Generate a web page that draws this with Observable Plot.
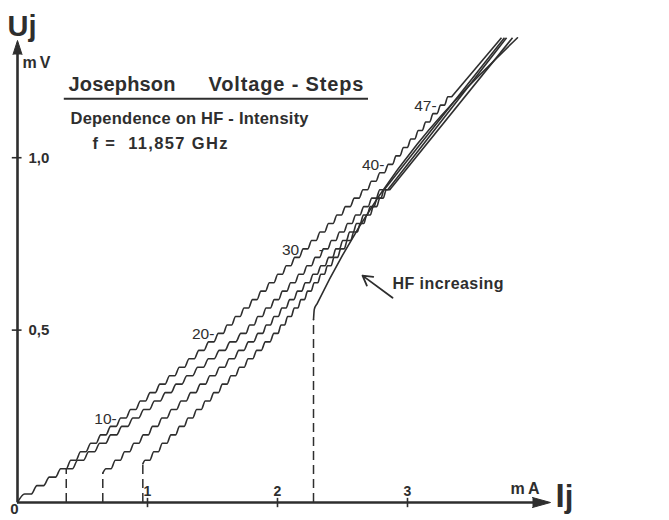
<!DOCTYPE html>
<html><head><meta charset="utf-8">
<script src="https://cdn.jsdelivr.net/npm/d3@7"></script>
<script src="https://cdn.jsdelivr.net/npm/@observablehq/plot@0.6"></script>
<style>html,body{margin:0;padding:0;background:#fff;}#chart svg{display:block}</style>
</head><body><div id="chart"></div>
<script>
// Josephson step height hf/2e at f = 11.857 GHz, in mV
const stepVoltage = 0.02452;

const curveNames = ["HF level 4", "HF level 3", "HF level 2", "HF level 1"];
const firstStep = [1, 4, 4, 5];
// current (mA) at the centre of each constant-voltage step
const curve1Steps = [0.08, 0.175, 0.27, 0.355, 0.43, 0.505, 0.585, 0.66, 0.737, 0.815,
  0.89, 0.965, 1.04, 1.115, 1.19, 1.265, 1.34, 1.415, 1.49, 1.565,
  1.63, 1.695, 1.76, 1.825, 1.89, 1.955, 2.02, 2.085, 2.15, 2.215,
  2.28, 2.345, 2.41, 2.475, 2.54, 2.61, 2.675, 2.74, 2.805, 2.87,
  2.927, 2.984, 3.041, 3.098, 3.155, 3.212, 3.27, 3.325];
const curve2Steps = [0.40, 0.485, 0.57, 0.655, 0.74, 0.825, 0.91,
  0.993, 1.076, 1.159, 1.242, 1.325, 1.408, 1.491, 1.574, 1.657, 1.74,
  1.803, 1.866, 1.929, 1.992, 2.055, 2.118, 2.181, 2.244, 2.307, 2.37,
  2.432, 2.494, 2.556, 2.618, 2.68, 2.742, 2.804];
const curve3Steps = [0.70, 0.772, 0.843, 0.915, 0.987, 1.058, 1.13,
  1.204, 1.278, 1.352, 1.426, 1.50, 1.574, 1.648, 1.722, 1.796, 1.87,
  1.93, 1.99, 2.05, 2.11, 2.17, 2.23, 2.29, 2.35, 2.41,
  2.463, 2.516, 2.569, 2.622, 2.675, 2.728, 2.781, 2.834];
const curve4Steps = [1.0, 1.066, 1.132, 1.198, 1.264, 1.33,
  1.396, 1.462, 1.528, 1.594, 1.66, 1.726, 1.792, 1.858, 1.924, 1.99,
  2.041, 2.092, 2.143, 2.194, 2.245, 2.296, 2.347, 2.398, 2.449, 2.50,
  2.55, 2.60, 2.65, 2.70, 2.75, 2.80, 2.85];
const startCurrent = [0, 0.375, 0.656, 0.964];
const startVoltage = [0, 0.098, 0.085, 0.112];
const endCurrent = [3.723, 3.746, 3.762, 3.808];
const endVoltage = [1.348, 1.348, 1.348, 1.348];

// curve without HF
const noHfCurrent = [2.277, 2.283, 2.305, 3.846];
const noHfVoltage = [0.53, 0.56, 0.577, 1.348];

const labelSteps = [10, 20, 30, 40, 47];
const labelTexts = ["10-", "20-", "30", "40-", "47-"];
const xTicks = [1, 2, 3];
const xTickLabels = ["1", "2", "3"];
const yTicks = [0.5, 1.0];
const yTickLabels = ["0,5", "1,0"];

const ink = "#2e2e2e";
const font = "'Liberation Sans', Arial, Helvetica, sans-serif";
const plateau = 0.27;

const stepLists = [curve1Steps, curve2Steps, curve3Steps, curve4Steps];
const rows = [];
const tails = [];
const plateauLeft = [];
stepLists.forEach((list, k) => {
  const name = curveNames[k];
  rows.push({curve: name, I: startCurrent[k], U: startVoltage[k]});
  let lastR = 0, lastU = 0;
  plateauLeft.push([]);
  list.forEach((c, i) => {
    const n = firstStep[k] + i;
    const prev = i > 0 ? list[i - 1] : c - (list[1] - list[0]);
    const next = i < list.length - 1 ? list[i + 1] : c + (c - list[i - 1]);
    const u = n * stepVoltage;
    const left = c - plateau * (c - prev), right = c + plateau * (next - c);
    rows.push({curve: name, I: left, U: u});
    rows.push({curve: name, I: right, U: u});
    plateauLeft[k].push(left);
    lastR = right; lastU = u;
  });
  tails.push({I1: lastR, U1: lastU, I2: endCurrent[k], U2: endVoltage[k]});
});
const noHfRows = noHfCurrent.map((I, i) => ({I, U: noHfVoltage[i]}));
const dashed = startCurrent.slice(1).map((I, i) => ({I, U: startVoltage[i + 1]}))
  .concat([{I: noHfCurrent[0], U: noHfVoltage[0]}]);
const labels = labelSteps.map((n, i) => ({I: plateauLeft[0][n - firstStep[0]], U: n * stepVoltage, t: labelTexts[i]}));

const txt = (s, x, y, o = {}) => Plot.text([s], {x, y, text: d => d, textAnchor: "start", lineAnchor: "bottom",
  fill: ink, fontWeight: "bold", fontFamily: font, ...o});

const chart = Plot.plot({
  width: 669, height: 520,
  marginLeft: 17, marginRight: 119, marginTop: 40, marginBottom: 18,
  x: {domain: [0, 4.1], axis: null},
  y: {domain: [0, 1.34], axis: null},
  style: {background: "#fff", fontFamily: font},
  marks: [
    // axes
    Plot.ruleY([0], {x1: 0, x2: 4.0, stroke: ink, strokeWidth: 2.6}),
    Plot.ruleX([0], {y1: 0, y2: 1.31, stroke: ink, strokeWidth: 2.6}),
    Plot.vector([0], {x: 4.1, y: 0, length: 18, r: 5, rotate: 90, shape: "spike", anchor: "end", fill: ink, stroke: ink, strokeWidth: 1}),
    Plot.vector([0], {x: 0, y: 1.34, length: 14, r: 4.5, rotate: 0, shape: "spike", anchor: "end", fill: ink, stroke: ink, strokeWidth: 1}),
    Plot.ruleX(xTicks, {x: d => d, y1: -0.015, y2: 0.012, stroke: ink, strokeWidth: 1.6}),
    Plot.text(xTicks, {x: d => d, y: 0, dy: -7, text: (d, i) => xTickLabels[i], lineAnchor: "bottom", fontSize: 14, fontWeight: "bold", fill: ink}),
    Plot.ruleY(yTicks, {y: d => d, x1: -0.04, x2: 0.035, stroke: ink, strokeWidth: 1.6}),
    Plot.text(yTicks, {x: 0, y: d => d, dx: 11, text: (d, i) => yTickLabels[i], textAnchor: "start", lineAnchor: "middle", fontSize: 15, fontWeight: "bold", fill: ink}),
    Plot.text(["0"], {x: 0, y: 0, dx: -3, dy: 11, text: d => d, lineAnchor: "bottom", fontSize: 15, fontWeight: "bold", fill: ink}),
    // dashed critical-current jumps
    Plot.ruleX(dashed, {x: "I", y1: 0, y2: "U", stroke: ink, strokeWidth: 1.5, strokeDasharray: "9,5"}),
    // curves with steps
    Plot.line(rows, {x: "I", y: "U", z: "curve", curve: "monotone-x", stroke: ink, strokeWidth: 1.6}),
    Plot.link(tails, {x1: "I1", y1: "U1", x2: "I2", y2: "U2", stroke: ink, strokeWidth: 1.6}),
    Plot.line(noHfRows, {x: "I", y: "U", curve: "monotone-x", stroke: ink, strokeWidth: 1.6}),
    // step labels
    Plot.text(labels, {x: "I", y: "U", text: "t", dx: -4, dy: 1, textAnchor: "end", lineAnchor: "middle", fontSize: 15.5, fill: ink}),
    Plot.text(["-"], {x: curve1Steps[29], y: 30 * stepVoltage, dx: 16, dy: 1, text: d => d, lineAnchor: "middle", fontSize: 15.5, fill: ink}),
    // titles and annotations
    txt("U", -0.077, 1.354, {fontSize: 29}),
    txt("j", 0.085, 1.354, {fontSize: 29}),
    txt("mV", 0.038, 1.261, {fontSize: 16}),
    txt("Josephson", 0.392, 1.194, {fontSize: 20}),
    txt("Voltage - Steps", 1.469, 1.194, {fontSize: 20}),
    Plot.ruleY([1.171], {x1: 0.36, x2: 2.70, stroke: ink, strokeWidth: 2}),
    txt("Dependence on HF - Intensity", 0.408, 1.099, {fontSize: 16.5}),
    txt("f =  11,857 GHz", 0.577, 1.025, {fontSize: 16.5}),
    txt("HF increasing", 2.885, 0.62, {fontSize: 16}),
    Plot.arrow([0], {x1: 2.885, y1: 0.594, x2: 2.654, y2: 0.658, stroke: ink, strokeWidth: 1.8, headLength: 9}),
    txt("mA", 3.792, 0.026, {fontSize: 16}),
    txt("I", 4.138, -0.0145, {fontSize: 33}),
    txt("j", 4.21, -0.0145, {fontSize: 31})
  ]
});
// stretch lettering to the widths of the hand-set original
const widths = {"Voltage - Steps": 155, "Dependence on HF - Intensity": 238, "f =  11,857 GHz": 135,
  "HF increasing": 111, "mV": 28, "mA": 29, "Josephson": 107};
d3.select(chart).selectAll("text").each(function () {
  const w = widths[this.textContent];
  if (w) d3.select(this).attr("textLength", w).attr("lengthAdjust", "spacing");
});
document.getElementById("chart").append(chart);
</script>
</body></html>
